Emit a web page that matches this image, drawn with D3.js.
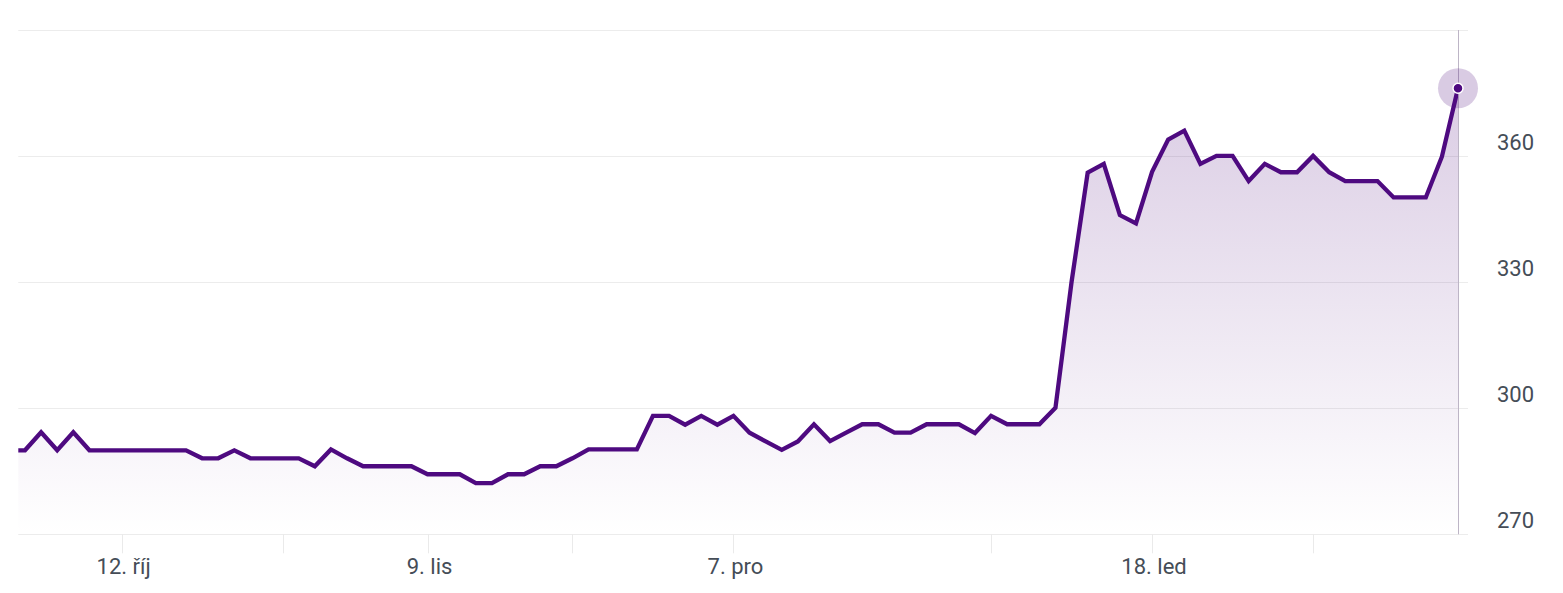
<!DOCTYPE html>
<html>
<head>
<meta charset="utf-8">
<script src="https://cdn.jsdelivr.net/npm/d3@7"></script>
<style>
  html, body { margin: 0; padding: 0; background: #ffffff; }
  svg { display: block; font-family: Roboto, "Noto Sans", sans-serif; }
</style>
</head>
<body>
<svg id="chart" width="1563" height="593"></svg>
<script>
// Closing prices per trading day (first one lies just left of the visible plot)
const prices = [
  290, 290, 294.3, 290, 294.3, 290, 290, 290, 290, 290, 290, 290,
  288.1, 288.1, 290, 288.1, 288.1, 288.1, 288.1, 286.2, 290.2, 288.1,
  286.2, 286.2, 286.2, 286.2, 284.3, 284.3, 284.3, 282.2, 282.2, 284.3,
  284.3, 286.2, 286.2, 288.1, 290.2, 290.2, 290.2, 290.2, 298.2, 298.2,
  296.1, 298.2, 296.1, 298.2, 294.2, 292.1, 290.1, 292.1, 296.2, 292.2,
  294.2, 296.2, 296.2, 294.2, 294.2, 296.2, 296.2, 296.2, 294.1, 298.2,
  296.2, 296.2, 296.2, 300.1, 330.1, 356.1, 358.2, 346.0, 344.0, 356.3,
  364.0, 366.1, 358.2, 360.1, 360.1, 354.1, 358.2, 356.2, 356.2, 360.1,
  356.2, 354.1, 354.1, 354.1, 350.2, 350.2, 350.2, 359.9, 376.2
];
// x-axis ticks (index into prices) and their labels
const tickIndex  = [7, 17, 26, 35, 45, 61, 71, 81];
const tickLabels = ["12. říj", "", "9. lis", "", "7. pro", "", "18. led", ""];
// y-axis ticks
const yTicks      = [270, 300, 330, 360, 390];
const yTickLabels = ["270", "300", "330", "360", ""];

const svg = d3.select("#chart");
const plot = { left: 18.3, right: 1468, top: 30, bottom: 534.3 };

const x = d3.scaleLinear().domain([0, prices.length - 1]).range([8.9, 1458]);
const y = d3.scaleLinear().domain([270, 390]).range([plot.bottom, plot.bottom - 120 * 4.2]);

const defs = svg.append("defs");
defs.append("clipPath").attr("id", "clip")
  .append("rect")
  .attr("x", plot.left).attr("y", 0)
  .attr("width", plot.right - plot.left).attr("height", plot.bottom + 1);

const grad = defs.append("linearGradient").attr("id", "fillGrad")
  .attr("gradientUnits", "userSpaceOnUse")
  .attr("x1", 0).attr("x2", 0)
  .attr("y1", y(d3.max(prices))).attr("y2", plot.bottom);
grad.append("stop").attr("offset", 0).attr("stop-color", "#52107f").attr("stop-opacity", 0.21);
grad.append("stop").attr("offset", 1).attr("stop-color", "#52107f").attr("stop-opacity", 0.0);

// grid lines
svg.append("g").selectAll("line").data(yTicks).join("line")
  .attr("x1", plot.left).attr("x2", plot.right)
  .attr("y1", d => Math.round(y(d)) + 0.5).attr("y2", d => Math.round(y(d)) + 0.5)
  .attr("stroke", "#ececec").attr("stroke-width", 1);

// y labels
svg.append("g").selectAll("text").data(yTicks).join("text")
  .attr("x", 1497).attr("y", d => y(d) - 6)
  .attr("font-size", 22).attr("fill", "#454d57")
  .text((d, i) => yTickLabels[i]);

// x tick marks
svg.append("g").selectAll("line").data(tickIndex).join("line")
  .attr("x1", d => Math.round(x(d)) + 0.5).attr("x2", d => Math.round(x(d)) + 0.5)
  .attr("y1", plot.bottom).attr("y2", plot.bottom + 19)
  .attr("stroke", "#eaeaea").attr("stroke-width", 1);

// x labels
svg.append("g").selectAll("text").data(tickIndex).join("text")
  .attr("x", d => x(d) + 2).attr("y", 574)
  .attr("text-anchor", "middle")
  .attr("font-size", 22).attr("fill", "#454d57")
  .text((d, i) => tickLabels[i]);

const g = svg.append("g").attr("clip-path", "url(#clip)");

const area = d3.area()
  .x((d, i) => x(i)).y0(plot.bottom).y1(d => y(d));
g.append("path").datum(prices)
  .attr("d", area).attr("fill", "url(#fillGrad)");

// crosshair
const last = prices.length - 1;
svg.append("line")
  .attr("x1", Math.round(x(last)) + 0.5).attr("x2", Math.round(x(last)) + 0.5)
  .attr("y1", plot.top).attr("y2", plot.bottom)
  .attr("stroke", "#bdb5c6").attr("stroke-width", 1);

const line = d3.line().x((d, i) => x(i)).y(d => y(d));
g.append("path").datum(prices)
  .attr("d", line).attr("fill", "none")
  .attr("stroke", "#4e0a80").attr("stroke-width", 4.3)
  .attr("stroke-linejoin", "miter");

// last point halo + marker
svg.append("circle")
  .attr("cx", x(last)).attr("cy", y(prices[last])).attr("r", 20)
  .attr("fill", "#52107f").attr("fill-opacity", 0.22);
svg.append("circle")
  .attr("cx", x(last)).attr("cy", y(prices[last])).attr("r", 5)
  .attr("fill", "#4e0a80").attr("stroke", "#ffffff").attr("stroke-width", 1.5);
</script>
</body>
</html>
